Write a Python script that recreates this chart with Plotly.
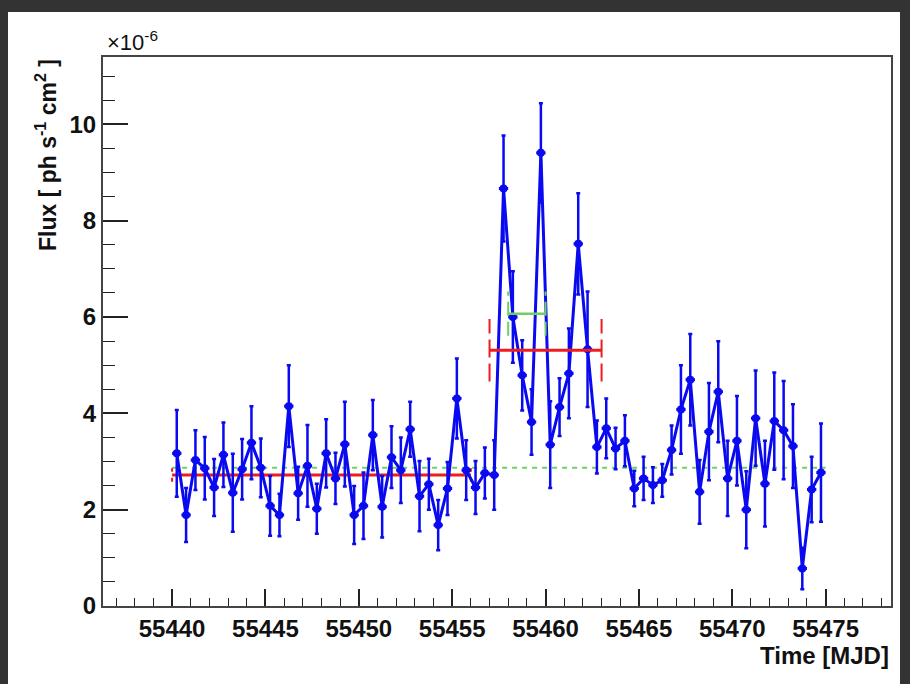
import plotly.graph_objects as go

# ---- data (flux in units of 1e-6 ph s^-1 cm^-2) ----
mjd = [55440.25, 55440.75, 55441.25, 55441.75, 55442.25, 55442.75, 55443.25, 55443.75,
       55444.25, 55444.75, 55445.25, 55445.75, 55446.25, 55446.75, 55447.25, 55447.75,
       55448.25, 55448.75, 55449.25, 55449.75, 55450.25, 55450.75, 55451.25, 55451.75,
       55452.25, 55452.75, 55453.25, 55453.75, 55454.25, 55454.75, 55455.25, 55455.75,
       55456.25, 55456.75, 55457.25, 55457.75, 55458.25, 55458.75, 55459.25, 55459.75,
       55460.25, 55460.75, 55461.25, 55461.75, 55462.25, 55462.75, 55463.25, 55463.75,
       55464.25, 55464.75, 55465.25, 55465.75, 55466.25, 55466.75, 55467.25, 55467.75,
       55468.25, 55468.75, 55469.25, 55469.75, 55470.25, 55470.75, 55471.25, 55471.75,
       55472.25, 55472.75, 55473.25, 55473.75, 55474.25, 55474.75]
flux = [3.17, 1.89, 3.03, 2.86, 2.46, 3.14, 2.35, 2.84, 3.39, 2.87,
        2.08, 1.89, 4.15, 2.34, 2.91, 2.02, 3.17, 2.65, 3.36, 1.89,
        2.08, 3.55, 2.06, 3.09, 2.82, 3.67, 2.28, 2.53, 1.68, 2.44,
        4.31, 2.82, 2.46, 2.76, 2.72, 8.67, 6.00, 4.79, 3.82, 9.41,
        3.35, 4.13, 4.83, 7.52, 5.33, 3.30, 3.69, 3.27, 3.43, 2.44,
        2.65, 2.51, 2.61, 3.24, 4.08, 4.70, 2.37, 3.62, 4.45, 2.65,
        3.43, 2.00, 3.90, 2.54, 3.84, 3.65, 3.32, 0.78, 2.42, 2.77]
flux_err = [0.90, 0.56, 0.62, 0.65, 0.59, 0.67, 0.81, 0.63, 0.76, 0.61,
            0.62, 0.44, 0.85, 0.55, 0.85, 0.52, 0.71, 0.53, 0.88, 0.60,
            0.69, 0.73, 0.64, 0.64, 0.68, 0.57, 0.73, 0.53, 0.52, 0.55,
            0.83, 0.62, 0.55, 0.53, 0.72, 1.10, 0.95, 0.73, 0.68, 1.03,
            0.90, 0.60, 0.93, 1.05, 1.20, 0.55, 0.62, 0.43, 0.53, 0.37,
            0.45, 0.37, 0.34, 0.51, 0.92, 0.95, 0.66, 1.01, 1.05, 0.78,
            0.93, 0.80, 0.99, 0.89, 1.01, 1.02, 0.87, 0.43, 0.68, 1.02]
bin_half = [0.25] * len(mjd)

# fitted levels: [start, end, value, error]
red_base = [55440.0, 55456.0, 2.72, 0.14]
red_flare = [55457.0, 55463.0, 5.31, 0.65]
green_flare = [55458.0, 55460.0, 6.07, 0.46]
green_mean = [55440.0, 55475.0, 2.87]

x_ticks = [55440, 55445, 55450, 55455, 55460, 55465, 55470, 55475]
y_ticks = [0, 2, 4, 6, 8, 10]

BLUE = "#0a0af0"
RED = "#ee1c1c"
GREEN = "#6fcf63"
FONT = "Liberation Sans, Arial, sans-serif"

fig = go.Figure()

# green dashed mean line
fig.add_trace(go.Scatter(x=[green_mean[0], green_mean[1]], y=[green_mean[2], green_mean[2]],
                         mode="lines", line=dict(color=GREEN, width=2, dash="5px,5px"),
                         hoverinfo="skip"))

def level(seg, color, width, vdash):
    s, e, v, err = seg
    fig.add_trace(go.Scatter(x=[s, e], y=[v, v], mode="lines",
                             line=dict(color=color, width=width), hoverinfo="skip"))
    for xx in (s, e):
        fig.add_trace(go.Scatter(x=[xx, xx], y=[v - err, v + err], mode="lines",
                                 line=dict(color=color, width=2, dash=vdash),
                                 hoverinfo="skip"))

level(red_base, RED, 3, "4px,6px")

# light curve
fig.add_trace(go.Scatter(
    x=mjd, y=flux, mode="lines+markers",
    line=dict(color=BLUE, width=3),
    marker=dict(color=BLUE, size=8, symbol="circle"),
    error_y=dict(type="data", array=flux_err, color=BLUE, thickness=2.5, width=2),
    error_x=dict(type="data", array=bin_half, color=BLUE, thickness=3, width=0),
))

level(red_flare, RED, 3, "18px,6px")
level(green_flare, GREEN, 2.5, "14px,6px")

fig.update_layout(
    width=910, height=684,
    margin=dict(l=103, r=19, t=57, b=78),
    paper_bgcolor="white", plot_bgcolor="white",
    showlegend=False,
    font=dict(family=FONT, size=22, color="#111111", weight="bold"),
)
fig.update_xaxes(
    range=[55436.3, 55478.5], tickvals=x_ticks, tickformat="d",
    ticks="inside", ticklen=17, tickwidth=1.5, tickcolor="#222",
    minor=dict(dtick=1, tick0=55440, ticks="inside", ticklen=8, tickwidth=1.2, tickcolor="#222"),
    showgrid=False, zeroline=False,
    showline=True, mirror=True, linecolor="#444", linewidth=2,
    tickfont=dict(family=FONT, size=24, color="#111", weight="bold"),
)
fig.update_yaxes(
    range=[0, 11.4], tickvals=y_ticks,
    ticks="inside", ticklen=25, tickwidth=1.5, tickcolor="#222",
    minor=dict(dtick=0.5, tick0=0, ticks="inside", ticklen=12, tickwidth=1.2, tickcolor="#222"),
    showgrid=False, zeroline=False,
    showline=True, mirror=True, linecolor="#444", linewidth=2,
    tickfont=dict(family=FONT, size=24, color="#111", weight="bold"),
)

fig.add_annotation(text="×10<sup>-6</sup>", xref="paper", yref="paper",
                   x=0.002, y=1.0, xanchor="left", yanchor="bottom", showarrow=False,
                   font=dict(family=FONT, size=22, color="#111", weight="normal"))
fig.add_annotation(text="Flux [ ph s<sup>-1</sup> cm<sup>2</sup> ]", xref="paper", yref="paper",
                   x=(46 - 103) / 788, y=1.0, xanchor="center", yanchor="top",
                   textangle=-90, showarrow=False,
                   font=dict(family=FONT, size=23, color="#111", weight="bold"))
fig.add_annotation(text="Time [MJD]", xref="paper", yref="paper",
                   x=1.0, y=(606 - 655) / 549, xanchor="right", yanchor="middle",
                   showarrow=False,
                   font=dict(family=FONT, size=24, color="#111", weight="bold"))

# dark screenshot border (top, left, right)
def px(x):
    return (x - 103) / 788

def py(y):
    return (606 - y) / 549

for x0, y0, x1, y1 in [(0, 0, 910, 12), (0, 0, 8, 684), (900, 0, 910, 684)]:
    fig.add_shape(type="rect", xref="paper", yref="paper",
                  x0=px(x0), x1=px(x1), y0=py(y1), y1=py(y0),
                  fillcolor="#333333", line=dict(width=0), layer="below")

fig.write_html("out.html")
